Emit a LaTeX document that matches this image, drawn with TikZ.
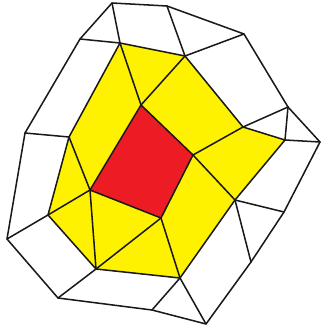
\documentclass[tikz,border=0pt]{standalone}
\usepackage{xcolor}
\usepackage{tikz}
\usetikzlibrary{
    calc,
}
\definecolor{cellyellow}{RGB}{255,242,0}
\definecolor{cellred}{RGB}{237,28,36}
\tikzset{
    % Basic styles
    edge/.style={draw=black!90, line width=1.3pt, line join=round, line cap=round},
    yellow cell/.style={fill=cellyellow},
    red cell/.style={fill=cellred},
}

\begin{document}
\begin{tikzpicture}[x=0.03cm, y=-0.03cm]
    \useasboundingbox (0, 0) rectangle (321, 331);

    % Outer ring
    \coordinate (topleft) at (112, 3);
    \coordinate (top) at (167, 6);
    \coordinate (upright) at (244, 34);
    \coordinate (right) at (288, 107);
    \coordinate (farright) at (320, 142);
    \coordinate (lowright) at (284, 212);
    \coordinate (lowrighttip) at (251, 262);
    \coordinate (bottom) at (206, 324);
    \coordinate (bottommid) at (152, 310);
    \coordinate (lowleft) at (58, 298);
    \coordinate (farleft) at (7, 239);
    \coordinate (left) at (25, 133);
    \coordinate (upleft) at (80, 39);

    % Middle ring
    \coordinate (mtop) at (120, 43);
    \coordinate (mupright) at (185, 56);
    \coordinate (mright) at (243, 127);
    \coordinate (mfarright) at (285, 140);
    \coordinate (mlowright) at (235, 200);
    \coordinate (mbottom) at (180, 278);
    \coordinate (mlowleft) at (96, 269);
    \coordinate (mleft) at (48, 215);
    \coordinate (mupleft) at (69, 137);

    % Centre cell
    \coordinate (ctop) at (141, 105);
    \coordinate (cright) at (193, 155);
    \coordinate (cbottom) at (161, 218);
    \coordinate (cleft) at (90, 190);

    % Filled cells
    \path[yellow cell] (mtop) -- (mupright) -- (mright) -- (mfarright) -- (mlowright)
        -- (mbottom) -- (mlowleft) -- (mleft) -- (mupleft) -- cycle;
    \path[red cell] (ctop) -- (cright) -- (cbottom) -- (cleft) -- cycle;

    % Outlines
    \draw[edge] (topleft) -- (top) -- (upright) -- (right) -- (farright) -- (lowright)
        -- (lowrighttip) -- (bottom) -- (bottommid) -- (lowleft) -- (farleft) -- (left)
        -- (upleft) -- cycle;
    \draw[edge] (mtop) -- (mupright) -- (mright) -- (mfarright) -- (mlowright)
        -- (mbottom) -- (mlowleft) -- (mleft) -- (mupleft) -- cycle;
    \draw[edge] (ctop) -- (cright) -- (cbottom) -- (cleft) -- cycle;

    % Spokes to the outer ring
    \draw[edge] (topleft) -- (mtop);
    \draw[edge] (upleft) -- (mtop);
    \draw[edge] (top) -- (mupright);
    \draw[edge] (upright) -- (mupright);
    \draw[edge] (right) -- (mright);
    \draw[edge] (right) -- (mfarright);
    \draw[edge] (farright) -- (mfarright);
    \draw[edge] (lowright) -- (mlowright);
    \draw[edge] (lowrighttip) -- (mlowright);
    \draw[edge] (bottom) -- (mbottom);
    \draw[edge] (bottommid) -- (mbottom);
    \draw[edge] (lowleft) -- (mlowleft);
    \draw[edge] (farleft) -- (mleft);
    \draw[edge] (left) -- (mupleft);

    % Spokes to the centre cell
    \draw[edge] (mtop) -- (ctop);
    \draw[edge] (mupright) -- (ctop);
    \draw[edge] (mright) -- (cright);
    \draw[edge] (mlowright) -- (cright);
    \draw[edge] (mbottom) -- (cbottom);
    \draw[edge] (mlowleft) -- (cbottom);
    \draw[edge] (mlowleft) -- (cleft);
    \draw[edge] (mleft) -- (cleft);
    \draw[edge] (mupleft) -- (cleft);
\end{tikzpicture}
\end{document}
